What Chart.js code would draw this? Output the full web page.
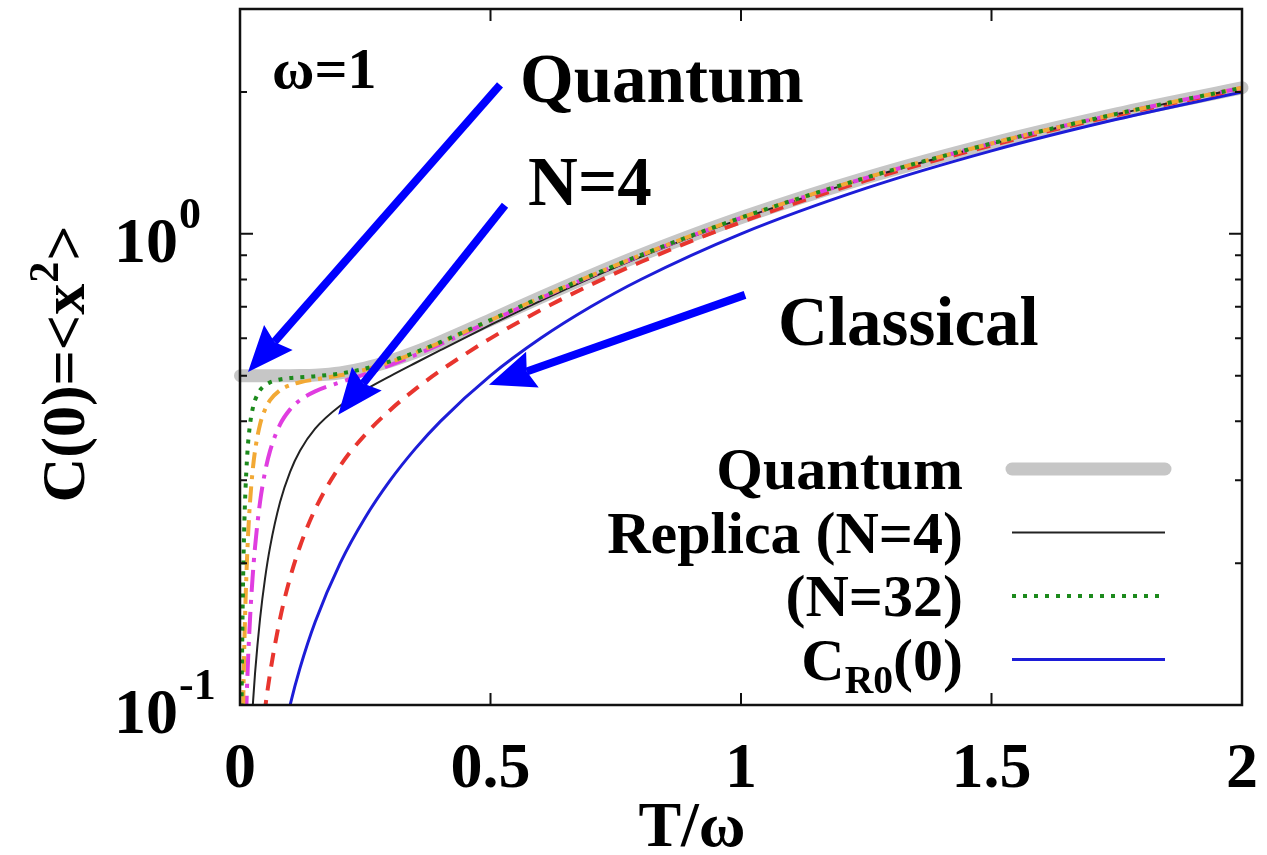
<!DOCTYPE html>
<html>
<head>
<meta charset="utf-8">
<script src="https://cdn.jsdelivr.net/npm/chart.js@4.4.1/dist/chart.umd.min.js"></script>
<style>
  body { margin: 0; background: #fff; }
  canvas { display: block; }
</style>
</head>
<body>
<canvas id="chartOne" width="1267" height="855"></canvas>
<script>
// T/omega values shared by every curve
var temps = [0.001, 0.0025, 0.005, 0.0075, 0.01, 0.015, 0.02, 0.025, 0.03, 0.04, 0.05, 0.06, 0.08, 0.1, 0.12,
             0.15, 0.2, 0.25, 0.3, 0.35, 0.4, 0.5, 0.6, 0.7, 0.8, 1.0, 1.25, 1.5, 1.75, 2.0];

var quantum = [0.5, 0.5, 0.5, 0.5, 0.5, 0.5, 0.5, 0.5, 0.5, 0.5, 0.5, 0.5, 0.5, 0.5, 0.5002,
               0.5013, 0.5068, 0.5187, 0.5370, 0.5609, 0.5894, 0.6565, 0.7329, 0.8152, 0.9016, 1.0820, 1.3160, 1.5552, 1.7974, 2.0415];
var replica2 = [0.002, 0.005, 0.0100, 0.01499, 0.01998, 0.02995, 0.03987, 0.04975, 0.05957, 0.0790, 0.09808, 0.11673, 0.15257, 0.18621, 0.21753,
                0.26029, 0.32195, 0.375, 0.42295, 0.46824, 0.51236, 0.6, 0.68876, 0.77919, 0.87117, 1.05882, 1.29808, 1.54054, 1.785, 2.03077];
var replica4 = [0.004, 0.0100, 0.0200, 0.0299, 0.03987, 0.05957, 0.0790, 0.09806, 0.11669, 0.15239, 0.18570, 0.21637, 0.26956, 0.31249, 0.34674,
                0.38589, 0.43162, 0.46667, 0.49902, 0.53187, 0.56631, 0.64052, 0.72080, 0.80556, 0.89355, 1.07599, 1.3114, 1.55145, 1.79424, 2.03878];
var replica8 = [0.008, 0.01998, 0.03987, 0.05957, 0.0790, 0.11669, 0.15239, 0.18570, 0.21636, 0.26953, 0.31235, 0.34626, 0.39403, 0.42407, 0.44376,
                0.46294, 0.48424, 0.50394, 0.52661, 0.55316, 0.58333, 0.65238, 0.72976, 0.81274, 0.89952, 1.08045, 1.31483, 1.55421, 1.79657, 2.04084];
var replica16 = [0.01599, 0.03987, 0.0790, 0.11669, 0.15239, 0.21637, 0.26953, 0.31235, 0.34626, 0.39401, 0.42400, 0.44345, 0.46574, 0.47729, 0.48412,
                 0.49079, 0.50085, 0.51485, 0.53433, 0.55894, 0.58788, 0.65548, 0.7321, 0.8146, 0.9010, 1.0816, 1.3157, 1.5549, 1.7972, 2.0413];
var replica32 = [0.03194, 0.0790, 0.15239, 0.21637, 0.26953, 0.34626, 0.39401, 0.42400, 0.44346, 0.46573, 0.47724, 0.48386, 0.49073, 0.49406, 0.49606,
                 0.49859, 0.50528, 0.51770, 0.53633, 0.56043, 0.58903, 0.65627, 0.7327, 0.8150, 0.9014, 1.0819, 1.3159, 1.5551, 1.7973, 2.0414];
var classical = [0.001, 0.0025, 0.005, 0.0075, 0.01, 0.015, 0.02, 0.025, 0.03, 0.04, 0.05, 0.06, 0.08, 0.1, 0.12,
                 0.15, 0.2, 0.25, 0.3, 0.35, 0.4, 0.5, 0.6, 0.7, 0.8, 1.0, 1.25, 1.5, 1.75, 2.0];

var xTicks = [0, 0.5, 1, 1.5, 2];
var xTickLabels = ['0', '0.5', '1', '1.5', '2'];
var yMajor = [0.1, 1];
var yExponents = ['-1', '0'];
var yMinor = [0.2, 0.3, 0.4, 0.5, 0.6, 0.7, 0.8, 0.9, 2, 3];

var legendLabels = ['Quantum', 'Replica (N=4)', '(N=32)', 'C|R0|(0)'];

var FONT = '"Liberation Serif", "Times New Roman", serif';

const toPoints = (vals) => temps.map((t, i) => ({ x: t, y: vals[i] }));

var chartOne = document.getElementById('chartOne');

const drawArrow = (ctx, x1, y1, x2, y2) => {
    var ang = Math.atan2(y2 - y1, x2 - x1);
    var c = Math.cos(ang), s = Math.sin(ang);
    var hl = 46, hw = 19, notch = 6;
    var bx = x2 - hl * c, by = y2 - hl * s;
    ctx.strokeStyle = '#0000ff';
    ctx.fillStyle = '#0000ff';
    ctx.lineWidth = 8;
    ctx.lineCap = 'butt';
    ctx.beginPath();
    ctx.moveTo(x1, y1);
    ctx.lineTo(bx + notch * c, by + notch * s);
    ctx.stroke();
    ctx.beginPath();
    ctx.moveTo(x2, y2);
    ctx.lineTo(bx + hw * s, by - hw * c);
    ctx.lineTo(bx + notch * c, by + notch * s);
    ctx.lineTo(bx - hw * s, by + hw * c);
    ctx.closePath();
    ctx.fill();
}

// text made of pieces, '|' toggles subscript
const drawRich = (ctx, text, xRight, baseline, size) => {
    var parts = text.split('|');
    var widths = [];
    var total = 0;
    parts.forEach((p, i) => {
        var sz = (i % 2 == 1) ? size * 0.66 : size;
        ctx.font = 'bold ' + sz + 'px ' + FONT;
        var w = ctx.measureText(p).width;
        widths.push(w);
        total += w;
    })
    var x = xRight - total;
    parts.forEach((p, i) => {
        var sub = (i % 2 == 1);
        ctx.font = 'bold ' + (sub ? size * 0.66 : size) + 'px ' + FONT;
        ctx.textAlign = 'left';
        ctx.fillText(p, x, sub ? baseline + 13 : baseline);
        x += widths[i];
    })
}

var decor = {
    id: 'decor',
    afterDatasetsDraw(chart) {
        var ctx = chart.ctx;
        var xs = chart.scales.x, ys = chart.scales.y;
        var a = chart.chartArea;
        ctx.save();

        // frame
        ctx.strokeStyle = '#111';
        ctx.lineWidth = 2.5;
        ctx.strokeRect(a.left, a.top, a.right - a.left, a.bottom - a.top);

        // inward ticks, mirrored
        ctx.lineWidth = 2;
        ctx.beginPath();
        xTicks.forEach((t) => {
            var px = xs.getPixelForValue(t);
            ctx.moveTo(px, a.bottom); ctx.lineTo(px, a.bottom - 12);
            ctx.moveTo(px, a.top); ctx.lineTo(px, a.top + 12);
        })
        yMajor.forEach((v) => {
            var py = ys.getPixelForValue(v);
            ctx.moveTo(a.left, py); ctx.lineTo(a.left + 13, py);
            ctx.moveTo(a.right, py); ctx.lineTo(a.right - 13, py);
        })
        yMinor.forEach((v) => {
            var py = ys.getPixelForValue(v);
            ctx.moveTo(a.left, py); ctx.lineTo(a.left + 7, py);
            ctx.moveTo(a.right, py); ctx.lineTo(a.right - 7, py);
        })
        ctx.stroke();

        ctx.fillStyle = '#000';
        ctx.textBaseline = 'alphabetic';

        // x tick labels
        ctx.font = 'bold 64px ' + FONT;
        ctx.textAlign = 'center';
        xTicks.forEach((t, i) => {
            ctx.fillText(xTickLabels[i], xs.getPixelForValue(t), a.bottom + 82);
        })

        // y tick labels 10^n
        yMajor.forEach((v, i) => {
            var py = ys.getPixelForValue(v);
            ctx.font = 'bold 64px ' + FONT;
            ctx.textAlign = 'right';
            ctx.fillText('10', 178, py + 28);
            ctx.font = 'bold 44px ' + FONT;
            ctx.textAlign = 'left';
            ctx.fillText(yExponents[i], 179, py - 6);
        })

        // axis titles
        ctx.font = 'bold 64px ' + FONT;
        ctx.textAlign = 'center';
        ctx.fillText('T/\u03c9', 692, 846);

        ctx.save();
        ctx.translate(84, (a.top + a.bottom) / 2 + 8);
        ctx.rotate(-Math.PI / 2);
        var p1 = 'C(0)=<x', p2 = '2', p3 = '>';
        ctx.font = 'bold 62px ' + FONT;
        var w1 = ctx.measureText(p1).width, w3 = ctx.measureText(p3).width;
        ctx.font = 'bold 42px ' + FONT;
        var w2 = ctx.measureText(p2).width;
        var x0 = -(w1 + w2 + w3) / 2;
        ctx.textAlign = 'left';
        ctx.font = 'bold 62px ' + FONT;
        ctx.fillText(p1, x0, 0);
        ctx.font = 'bold 42px ' + FONT;
        ctx.fillText(p2, x0 + w1 + 1, -26);
        ctx.font = 'bold 62px ' + FONT;
        ctx.fillText(p3, x0 + w1 + w2 + 2, 0);
        ctx.restore();

        // omega label
        ctx.font = 'bold 58px ' + FONT;
        ctx.textAlign = 'left';
        ctx.fillText('\u03c9=1', xs.getPixelForValue(0.064), ys.getPixelForValue(2.04));

        // arrows with labels
        const P = (t, v) => [xs.getPixelForValue(t), ys.getPixelForValue(v)];
        var q1 = P(0.519, 2.07), q2 = P(0.016, 0.509);
        drawArrow(ctx, q1[0], q1[1], q2[0], q2[1]);
        var n1 = P(0.529, 1.15), n2 = P(0.196, 0.413);
        drawArrow(ctx, n1[0], n1[1], n2[0], n2[1]);
        var c1 = P(1.008, 0.742), c2 = P(0.497, 0.478);
        drawArrow(ctx, c1[0], c1[1], c2[0], c2[1]);

        ctx.fillStyle = '#000';
        ctx.font = 'bold 69px ' + FONT;
        ctx.textAlign = 'left';
        var tq = P(0.559, 1.906);
        ctx.fillText('Quantum', tq[0], tq[1]);
        var tn = P(0.575, 1.152);
        ctx.fillText('N=4', tn[0], tn[1]);
        var tc = P(1.074, 0.581);
        ctx.fillText('Classical', tc[0], tc[1]);

        // legend
        var legendSets = [chart.data.datasets[6], chart.data.datasets[3], chart.data.datasets[0], chart.data.datasets[5]];
        legendSets.forEach((ds, i) => {
            var cy = 469 + i * 63.5;
            ctx.fillStyle = '#000';
            drawRich(ctx, legendLabels[i], 963, cy + 20, 60);
            ctx.strokeStyle = ds.borderColor;
            ctx.lineWidth = ds.borderWidth;
            ctx.lineCap = ds.borderCapStyle || 'butt';
            ctx.setLineDash(ds.borderDash || []);
            ctx.beginPath();
            ctx.moveTo(1012, cy);
            ctx.lineTo(1165, cy);
            ctx.stroke();
            ctx.setLineDash([]);
        })

        ctx.restore();
    }
}

var myChart = new Chart(chartOne, {
    type: 'line',
    data: {
        datasets: [{
            label: '(N=32)',
            data: toPoints(replica32),
            borderColor: '#1c8a1c',
            borderWidth: 4,
            borderDash: [4, 7]
        }, {
            label: 'N=16',
            data: toPoints(replica16),
            borderColor: '#f2a935',
            borderWidth: 4,
            borderDash: [16, 7, 4, 7]
        }, {
            label: 'N=8',
            data: toPoints(replica8),
            borderColor: '#e03de0',
            borderWidth: 4,
            borderDash: [22, 8, 4, 8]
        }, {
            label: 'Replica (N=4)',
            data: toPoints(replica4),
            borderColor: '#222222',
            borderWidth: 2
        }, {
            label: 'N=2',
            data: toPoints(replica2),
            borderColor: '#e8352e',
            borderWidth: 4,
            borderDash: [14, 10]
        }, {
            label: 'CR0(0)',
            data: toPoints(classical),
            borderColor: '#1d1dd8',
            borderWidth: 3
        }, {
            label: 'Quantum',
            data: toPoints(quantum),
            borderColor: '#c6c6c6',
            borderWidth: 13,
            borderCapStyle: 'round',
            clip: { left: 10, right: 10, top: 0, bottom: 0 }
        }]
    },
    options: {
        responsive: false,
        animation: false,
        devicePixelRatio: 1,
        layout: { padding: { left: 240, right: 25, top: 9, bottom: 150 } },
        elements: {
            point: { radius: 0 },
            line: { cubicInterpolationMode: 'monotone', fill: false }
        },
        scales: {
            x: { type: 'linear', min: 0, max: 2, display: false },
            y: { type: 'logarithmic', min: 0.1, max: 3, display: false }
        },
        plugins: {
            legend: { display: false },
            tooltip: { enabled: false }
        }
    },
    plugins: [decor]
});
</script>
</body>
</html>
